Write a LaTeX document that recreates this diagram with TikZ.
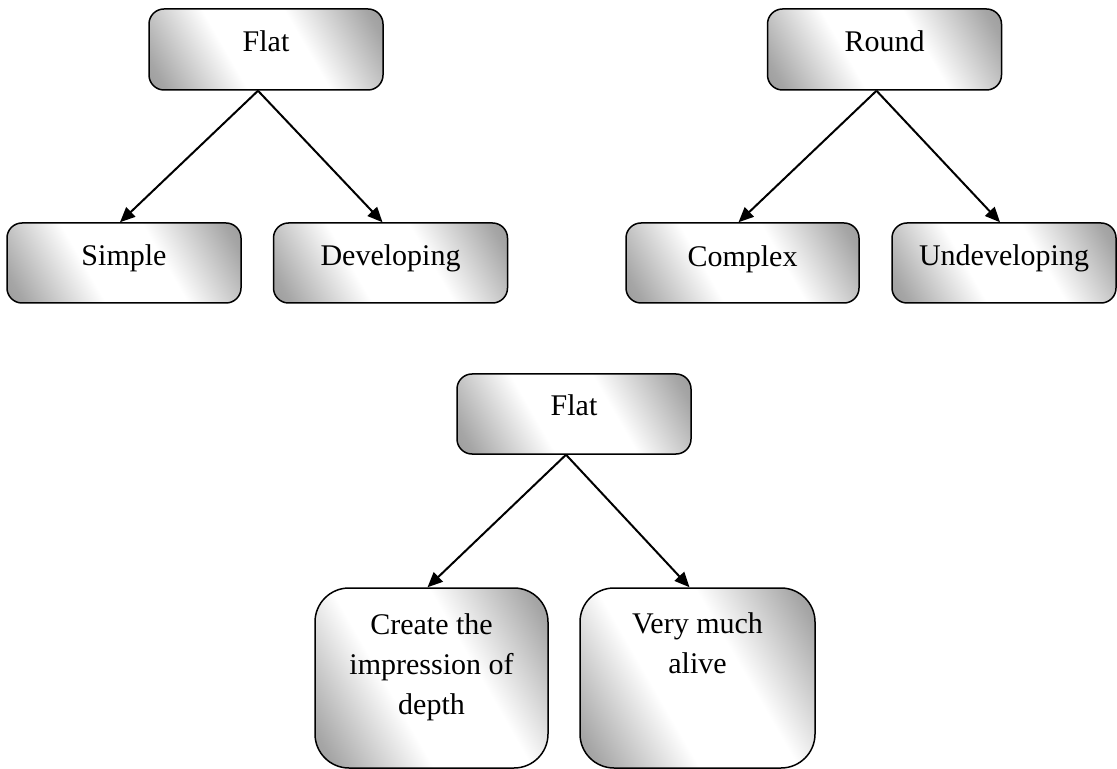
\documentclass[tikz,border=0pt]{standalone}
\usepackage{fontspec}
\setmainfont{Liberation Serif}
\usetikzlibrary{positioning}
\usetikzlibrary{arrows.meta}

\pgfdeclarehorizontalshading{boxshade}{100bp}{color(0bp)=(gray); color(8bp)=(gray!92); color(20bp)=(gray!70); color(40bp)=(white); color(60bp)=(white); color(80bp)=(gray!70); color(92bp)=(gray!92); color(100bp)=(gray)}

\tikzset{
  box/.style={draw, line width=0.75pt, rounded corners=7.5pt,
    minimum width=117pt, minimum height=40pt, inner sep=0pt,
    shading=boxshade, shading angle=30},
  tallbox/.style={box, rounded corners=17pt, minimum height=90pt},
  boxtext/.style={inner sep=0pt, align=center, font=\fontsize{15}{20}\selectfont},
  link/.style={line width=1pt, -{Triangle[length=7.5pt,width=6.5pt]}}
}

\begin{document}
\begin{tikzpicture}[x=0.5pt, y=-0.5pt]
\useasboundingbox (0,0) rectangle (1117,769);

% first tree
\node[box, minimum height=40.5pt] (flatA) at (266,49.5) {};
\node[box] (simple) at (124,263) {};
\node[box] (develop) at (390.5,263) {};

% second tree
\node[box, minimum height=40.5pt] (round) at (884.5,49.5) {};
\node[box, minimum width=116.5pt] (complex) at (742.5,263) {};
\node[box, minimum width=112pt] (undevelop) at (1004,263) {};

% third tree
\node[box] (flatB) at (574,414) {};
\node[tallbox, minimum width=116.5pt] (depth) at (431.5,678) {};
\node[tallbox, minimum width=117.5pt] (alive) at (697.5,678) {};

\node[boxtext, below=11pt of flatA.north] (flatAtext) {Flat};
\node[boxtext, below=11pt of simple.north] (simpletext) {Simple};
\node[boxtext, below=11pt of develop.north] (developtext) {Developing};
\node[boxtext, below=11pt of round.north] (roundtext) {Round};
\node[boxtext, below=11.5pt of complex.north] (complextext) {Complex};
\node[boxtext, below=11pt of undevelop.north] (undeveloptext) {Undeveloping};
\node[boxtext, below=10.5pt of flatB.north] (flatBtext) {Flat};
\node[boxtext, below=13pt of depth.north] (depthtext) {Create the\\impression of\\depth};
\node[boxtext, below=12.5pt of alive.north] (alivetext) {Very much\\alive};

\foreach \from/\to/\dx in {flatA/simple/-2pt, flatA/develop/-4pt,
    round/complex/-2pt, round/undevelop/-2pt,
    flatB/depth/-2pt, flatB/alive/-4pt} {
  \draw[link] ([xshift=-4pt]\from.south) -- ([xshift=\dx]\to.north);
}

\end{tikzpicture}
\end{document}
